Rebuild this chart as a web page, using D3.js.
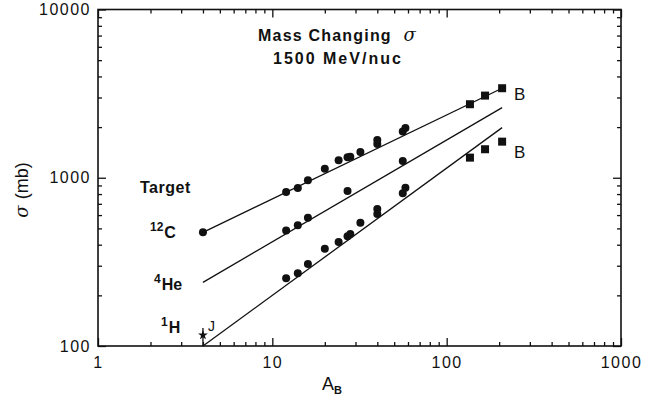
<!DOCTYPE html>
<html lang="en"><head><meta charset="UTF-8">
<title>Mass changing cross sections</title>
<script src="https://cdn.jsdelivr.net/npm/d3@7"></script>
<style>
  body { margin: 0; background: #fff; }
  svg text { font-family: "Liberation Sans", Arial, sans-serif; fill: #111; }
</style>
</head>
<body>
<script>
// projectile mass number
var massA = [12, 14, 16, 20, 24, 27, 28, 32, 40, 40, 56, 58];
var sigC = [823, 870, 967, 1133, 1270, 1324, 1335, 1423, 1588, 1678, 1880, 1977];
var sigH = [253, 271, 307, 379, 415, 449, 463, 541, 652, 609, 809, 873];
var massHe = [12, 14, 16, 27, 56];
var sigHe = [485, 522, 579, 835, 1259];
// alpha beam on carbon
var alphaA = [4];
var alphaC = [474];
// heavy beams ("B")
var heavyA = [136, 166, 208];
var heavyC = [2735, 3078, 3405];
var heavyH = [1317, 1477, 1639];
// J point, with error bar
var jA = [4];
var jSig = [116];
var jLo = [100];
var jHi = [128];
// fit lines
var fitA = [4, 208];
var fitC = [474, 3405];
var fitHe = [239, 2612];
var fitH = [100, 1986];

var xMajor = [1, 10, 100, 1000];
var yMajor = [100, 1000, 10000];

var w = 660, h = 402;
var mLeft = 98, mRight = 621, mTop = 9.5, mBottom = 346;

var svg = d3.select("body").append("svg")
  .attr("width", w).attr("height", h);

var x = d3.scaleLog().domain([1, 1000]).range([mLeft, mRight]);
var y = d3.scaleLog().domain([100, 10000]).range([mBottom, mTop]);

var xMinor = x.ticks().filter(function(d) { return xMajor.indexOf(d) < 0; });
var yMinor = y.ticks().filter(function(d) { return yMajor.indexOf(d) < 0; });

function tickAxis(axis, vals, size, labels) {
  return axis.tickValues(vals).tickSizeInner(-size).tickSizeOuter(0)
    .tickFormat(labels ? d3.format("d") : "");
}

function addAxis(gen, tx, ty) {
  var g = svg.append("g").attr("transform", "translate(" + tx + "," + ty + ")").call(gen);
  g.select(".domain").remove();
  g.selectAll("line").attr("stroke", "#111").attr("stroke-width", 1.3);
  g.selectAll("text").attr("font-size", 16).attr("letter-spacing", 1.5)
    .attr("font-family", "Liberation Sans, Arial, sans-serif").attr("fill", "#111");
  return g;
}

// bottom / top
addAxis(tickAxis(d3.axisBottom(x), xMajor, 8, true).tickPadding(11), 0, mBottom);
addAxis(tickAxis(d3.axisBottom(x), xMinor, 4, false), 0, mBottom);
addAxis(tickAxis(d3.axisTop(x), xMajor, 8, false), 0, mTop);
addAxis(tickAxis(d3.axisTop(x), xMinor, 4, false), 0, mTop);
// left / right
addAxis(tickAxis(d3.axisLeft(y), yMajor, 8, true).tickPadding(7), mLeft, 0);
addAxis(tickAxis(d3.axisLeft(y), yMinor, 4, false), mLeft, 0);
addAxis(tickAxis(d3.axisRight(y), yMajor, 8, false), mRight, 0);
addAxis(tickAxis(d3.axisRight(y), yMinor, 4, false), mRight, 0);

// frame
svg.append("rect")
  .attr("x", mLeft).attr("y", mTop)
  .attr("width", mRight - mLeft).attr("height", mBottom - mTop)
  .attr("fill", "none").attr("stroke", "#111").attr("stroke-width", 1.6);

// fit lines
var line = d3.line().x(function(d) { return x(d[0]); }).y(function(d) { return y(d[1]); });
[fitC, fitHe, fitH].forEach(function(s) {
  svg.append("path")
    .attr("d", line(d3.zip(fitA, s)))
    .attr("fill", "none").attr("stroke", "#111").attr("stroke-width", 1.3);
});

// circles
function dots(xs, ys) {
  svg.append("g").selectAll("circle")
    .data(d3.zip(xs, ys)).enter().append("circle")
    .attr("cx", function(d) { return x(d[0]); })
    .attr("cy", function(d) { return y(d[1]); })
    .attr("r", 4).attr("fill", "#111");
}
dots(massA, sigC);
dots(massA, sigH);
dots(massHe, sigHe);
dots(alphaA, alphaC);

// squares
function squares(xs, ys) {
  svg.append("g").selectAll("rect")
    .data(d3.zip(xs, ys)).enter().append("rect")
    .attr("x", function(d) { return x(d[0]) - 4; })
    .attr("y", function(d) { return y(d[1]) - 4; })
    .attr("width", 8).attr("height", 8).attr("fill", "#111");
}
squares(heavyA, heavyC);
squares(heavyA, heavyH);

// J point with error bar
svg.append("line")
  .attr("x1", x(jA[0])).attr("x2", x(jA[0]))
  .attr("y1", y(jLo[0])).attr("y2", y(jHi[0]))
  .attr("stroke", "#111").attr("stroke-width", 1.3);
svg.append("path")
  .attr("d", d3.symbol().type(d3.symbolStar).size(30))
  .attr("transform", "translate(" + x(jA[0]) + "," + y(jSig[0]) + ")")
  .attr("fill", "#111");
svg.append("text").attr("x", x(jA[0]) + 5).attr("y", y(jSig[0]) - 4)
  .attr("font-size", 14).text("J");

// B labels
svg.append("text").attr("x", x(heavyA[2]) + 12).attr("y", y(heavyC[2]) + 12)
  .attr("font-size", 17).text("B");
svg.append("text").attr("x", x(heavyA[2]) + 12).attr("y", y(heavyH[2]) + 16)
  .attr("font-size", 17).text("B");

// title
var t1 = svg.append("text").attr("x", 258).attr("y", 41)
  .attr("font-size", 16).attr("font-weight", "bold").attr("letter-spacing", 1.2);
t1.append("tspan").text("Mass Changing ");
t1.append("tspan").attr("dx", 6).attr("font-family", "DejaVu Serif, serif")
  .attr("font-style", "italic").attr("font-size", 18).attr("font-weight", "normal").text("σ");
svg.append("text").attr("x", 273).attr("y", 64)
  .attr("font-size", 16).attr("font-weight", "bold").attr("letter-spacing", 2)
  .text("1500 MeV/nuc");

// target labels
svg.append("text").attr("x", 140).attr("y", 193)
  .attr("font-size", 16).attr("font-weight", "bold").attr("letter-spacing", 0.5).text("Target");
function target(xp, yp, sup, el) {
  var t = svg.append("text").attr("x", xp).attr("y", yp)
    .attr("font-size", 16).attr("font-weight", "bold");
  t.append("tspan").attr("font-size", 12).attr("dy", -7).text(sup);
  t.append("tspan").attr("dy", 7).attr("dx", 1).text(el);
}
target(150, 238, "12", "C");
target(154, 290, "4", "He");
target(161, 333, "1", "H");

// axis titles
var xt = svg.append("text").attr("x", 322).attr("y", 390).attr("font-size", 18);
xt.append("tspan").text("A");
xt.append("tspan").attr("font-size", 11).attr("dy", 4).attr("font-weight", "bold").text("B");

var yt = svg.append("text")
  .attr("transform", "translate(28,190) rotate(-90)")
  .attr("text-anchor", "middle").attr("font-size", 18);
yt.append("tspan").attr("font-family", "DejaVu Serif, serif").attr("font-style", "italic").text("σ");
yt.append("tspan").attr("dx", 6).text("(mb)");
</script>
</body></html>
